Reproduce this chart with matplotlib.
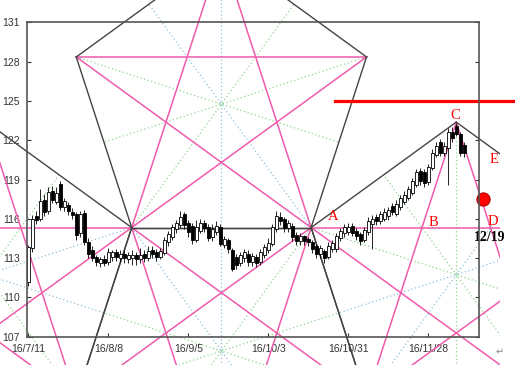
import numpy as np
import matplotlib
matplotlib.use("Agg")
import matplotlib.pyplot as plt
from matplotlib.transforms import Bbox, TransformedBbox

plt.rcParams["font.family"] = ["Liberation Sans", "DejaVu Sans"]

# ---------------------------------------------------------------------------
# Daily candles (trading-day index 0 = 16/7/11)
# ---------------------------------------------------------------------------
opens = [111.2, 113.8, 116.2, 116.0, 117.4, 116.6, 118.1, 117.3, 118.6, 116.9,
         117.0, 116.5, 116.3, 114.9, 116.4, 114.2, 113.6, 113.0, 112.6, 112.9,
         112.7, 113.1, 113.4, 113.0, 113.3, 112.9, 113.0, 113.2, 112.9, 113.3,
         113.0, 113.6, 113.4, 113.1, 113.4, 114.2, 114.6, 115.2, 115.5, 116.3,
         115.6, 115.4, 114.4, 115.1, 115.6, 115.3, 114.6, 115.0, 115.3, 114.0,
         114.3, 113.6, 113.0, 112.6, 113.0, 113.3, 112.7, 113.0, 112.7, 113.2,
         113.6, 114.1, 115.2, 116.1, 115.9, 115.3, 115.4, 114.7, 114.3, 114.6,
         114.4, 114.2, 113.9, 113.3, 113.5, 113.1, 113.7, 113.7, 114.5, 114.9,
         115.0, 115.4, 115.0, 114.8, 114.4, 115.0, 115.6, 116.1, 115.8, 116.0,
         116.2, 116.9, 116.4, 116.9, 117.3, 117.6, 118.0, 118.6, 119.6, 119.5,
         118.8, 119.9, 120.9, 121.8, 121.0, 121.4, 122.6, 123.0, 122.4, 121.6]
closes = [113.8, 115.9, 115.9, 117.3, 116.5, 118.0, 117.4, 117.9, 116.9, 117.3,
          116.6, 116.3, 114.8, 116.3, 114.2, 113.3, 113.0, 112.7, 112.9, 112.6,
          113.4, 113.4, 113.1, 113.3, 113.0, 113.2, 113.2, 112.9, 113.2, 113.0,
          113.5, 113.3, 113.1, 113.5, 114.3, 114.8, 115.3, 115.6, 116.1, 115.5,
          115.0, 114.4, 115.3, 115.6, 115.3, 114.5, 115.2, 115.4, 114.1, 114.4,
          113.7, 112.2, 112.5, 113.2, 113.4, 112.7, 113.1, 112.6, 113.4, 113.8,
          114.1, 115.3, 116.2, 115.8, 115.3, 115.6, 114.6, 114.3, 114.6, 114.3,
          114.2, 113.7, 113.3, 113.7, 113.0, 113.9, 114.1, 114.6, 115.0, 115.3,
          115.3, 114.9, 114.7, 114.3, 115.1, 115.8, 115.9, 115.8, 116.3, 116.5,
          116.6, 116.5, 117.1, 117.5, 117.8, 118.2, 118.8, 119.5, 118.9, 118.7,
          119.9, 121.0, 121.5, 121.0, 121.5, 122.6, 122.2, 122.5, 121.0, 121.0]
highs = [114.0, 116.3, 116.6, 118.3, 117.9, 118.4, 118.5, 118.4, 118.9, 117.6,
         117.3, 116.8, 116.5, 116.6, 116.7, 114.5, 113.9, 113.2, 113.1, 113.2,
         113.8, 113.6, 113.7, 113.6, 113.6, 113.5, 113.6, 113.5, 113.8, 113.6,
         113.9, 113.9, 113.7, 113.8, 114.6, 115.1, 115.6, 115.9, 116.6, 116.5,
         115.9, 115.7, 115.9, 116.0, 115.9, 115.6, 115.6, 115.8, 115.6, 114.7,
         114.5, 113.8, 113.3, 113.5, 113.7, 113.6, 113.4, 113.3, 113.7, 114.1,
         114.5, 115.6, 116.6, 116.5, 116.1, 115.9, 115.7, 115.0, 114.9, 114.8,
         114.6, 114.4, 114.1, 114.0, 113.7, 114.2, 114.4, 114.9, 115.3, 115.6,
         115.7, 115.7, 115.3, 115.0, 115.4, 116.1, 116.3, 116.4, 116.6, 116.8,
         116.9, 117.2, 117.4, 117.8, 118.1, 118.5, 119.1, 119.8, 119.9, 119.8,
         120.2, 121.3, 121.9, 122.1, 121.9, 122.9, 123.0, 123.3, 122.6, 121.9]
lows = [110.9, 113.5, 115.6, 115.8, 116.2, 116.4, 117.2, 117.1, 116.7, 116.6,
        116.3, 116.0, 114.4, 114.6, 114.0, 113.0, 112.8, 112.4, 112.3, 112.4,
        112.5, 112.8, 112.8, 112.7, 112.6, 112.6, 112.5, 112.5, 112.6, 112.7,
        112.8, 113.0, 112.8, 112.9, 113.2, 113.9, 114.4, 114.9, 115.3, 115.2,
        114.6, 114.1, 114.2, 114.9, 115.0, 114.3, 114.3, 114.8, 113.9, 113.8,
        113.4, 112.0, 112.2, 112.4, 112.7, 112.4, 112.4, 112.3, 112.5, 113.0,
        113.4, 113.9, 115.0, 115.5, 115.0, 115.0, 114.3, 114.0, 114.0, 114.0,
        113.9, 113.4, 113.0, 113.0, 112.6, 112.9, 113.5, 113.5, 114.3, 114.6,
        114.8, 114.7, 114.4, 114.0, 114.2, 114.8, 113.7, 115.5, 115.6, 115.8,
        115.9, 116.3, 116.2, 116.7, 117.1, 117.4, 117.8, 118.4, 118.6, 118.4,
        118.6, 119.7, 120.7, 120.8, 120.8, 118.6, 121.9, 122.3, 120.8, 120.7]

tick_pos = [0, 20, 40, 60, 80, 100]
tick_labels = ["16/7/11", "16/8/8", "16/9/5", "16/10/3", "16/10/31", "16/11/28"]
y_ticks = [107, 110, 113, 116, 119, 122, 125, 128, 131]

# pivots of the pentagon construction (day index, price)
PIVOT_1 = (25.85, 115.33)
PIVOT_A = (70.7, 115.33)

# target line, forecast point, letter marks
RESIST_START, RESIST_LEVEL = 76.7, 125.0
DOT_X, DOT_Y = 113.7, 117.5
marks = ["A", "B", "C", "D", "E"]
mark_x = [76.2, 101.2, 106.7, 116.2, 116.4]
mark_y = [116.2, 115.75, 123.85, 115.83, 120.5]

# ---------------------------------------------------------------------------
fig = plt.figure(figsize=(5.15, 3.65), dpi=100)
ax = fig.add_axes([27.3 / 515, 28.3 / 365, 452 / 515, 314.4 / 365])
ax.set_xlim(-0.25, 112.75)
ax.set_ylim(107, 131)

to_px = ax.transData.transform
to_data = ax.transData.inverted().transform
clip = TransformedBbox(Bbox([[0, 0], [500 / 515, 1]]), fig.transFigure)


def pentagon(p, q):
    # regular pentagon on the left of edge p->q, built in screen space
    c, s = np.cos(np.radians(72)), np.sin(np.radians(72))
    rot = np.array([[c, -s], [s, c]])
    pts = [np.asarray(p, float), np.asarray(q, float)]
    for _ in range(3):
        pts.append(pts[-1] + rot @ (pts[-1] - pts[-2]))
    return pts


def seg(a, b, **kw):
    a, b = to_data(a), to_data(b)
    ln, = ax.plot([a[0], b[0]], [a[1], b[1]], **kw)
    ln.set_clip_box(clip)


p1, pa = to_px(PIVOT_1), to_px(PIVOT_A)
pent_b = pentagon(p1, pa)
pent_d = pentagon(pa, p1)
pent_a = pentagon(pent_d[2], p1)
pent_c = pentagon(pa, pent_d[4])

for pts in (pent_a, pent_b, pent_c, pent_d):
    for k in range(5):
        mid = (pts[(k + 2) % 5] + pts[(k + 3) % 5]) / 2
        col = "#8fd48f" if k % 2 == 0 else "#8cc0dc"
        seg(pts[k], mid, color=col, lw=0.9, ls=(0, (1, 2)), zorder=1)
for pts in (pent_a, pent_b, pent_c, pent_d):
    for k in range(5):
        seg(pts[k], pts[(k + 2) % 5], color="#f05aab", lw=1.1, zorder=2)
for pts in (pent_a, pent_b, pent_c, pent_d):
    for k in range(5):
        seg(pts[k], pts[(k + 1) % 5], color="#444444", lw=1.0, zorder=3)

# candles
x = np.arange(len(opens))
o, c = np.array(opens), np.array(closes)
up = c >= o
ax.vlines(x, lows, highs, color="black", lw=0.6, zorder=4)
ax.bar(x, np.abs(c - o) + 0.05, bottom=np.minimum(o, c), width=0.75,
       color=np.where(up, "white", "black"), edgecolor="black", lw=0.6, zorder=5)

# resistance line and forecast dot
ax.plot([RESIST_START, 130], [RESIST_LEVEL, RESIST_LEVEL], color="#ff0000",
        lw=2.3, clip_on=False, zorder=6)
ax.plot([DOT_X], [DOT_Y], "o", ms=9.5, color="#ff0000", mec="#b00000",
        mew=0.8, clip_on=False, zorder=7)

for m, mx, my in zip(marks, mark_x, mark_y):
    ax.text(mx, my, m, color="#ff0000", fontsize=10.5, family="Liberation Serif",
            ha="center", va="center", zorder=8)
ax.text(115.4, 114.6, "12/19", color="black", fontsize=10, fontweight="bold",
        family="Liberation Serif", ha="center", va="center", zorder=8)

ax.set_xticks(tick_pos)
ax.set_xticklabels(tick_labels)
ax.set_yticks(y_ticks)
ax.tick_params(direction="in", length=3, width=0.8, labelsize=7.5,
               colors="#333333", pad=5.5, right=True)
for sp in ax.spines.values():
    sp.set_color("#555555")
    sp.set_linewidth(1.2)
    sp.set_zorder(9)

fig.text(500 / 515, 1 - 352 / 365, "\u21b5", fontsize=7, color="#888888",
         family="DejaVu Sans", ha="center", va="center")

fig.savefig("out.png", dpi=100)
